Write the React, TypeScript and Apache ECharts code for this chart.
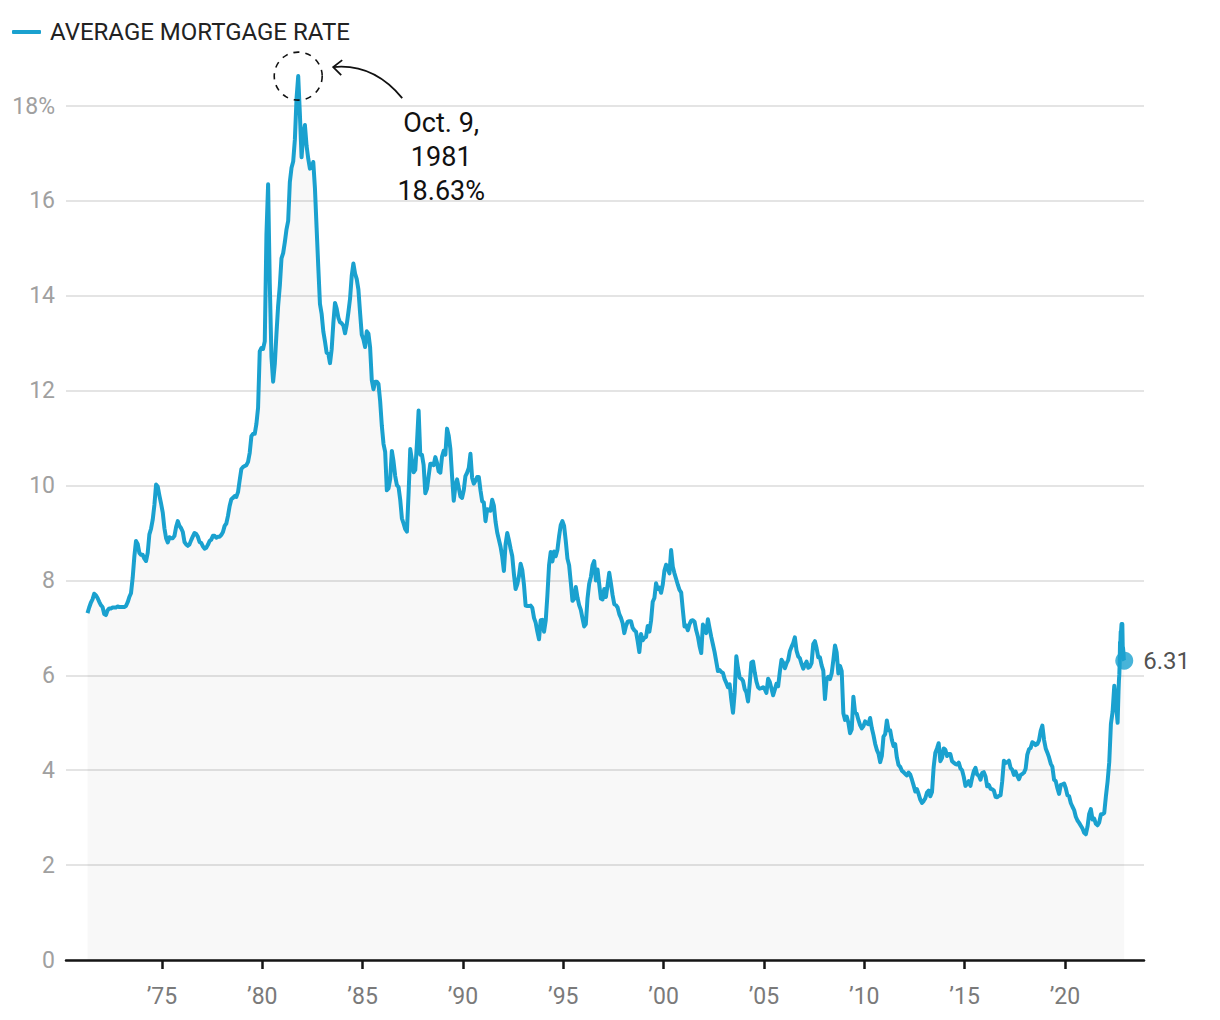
import React, { useEffect, useRef } from "react";
import * as echarts from "echarts";

// Monthly averages (Apr 1971 onward), 30-year fixed mortgage rate, %
const rates1970s = [
  7.31, 7.43, 7.53, 7.6, 7.72, 7.69, 7.63, 7.55, 7.48,
  7.44, 7.29, 7.27, 7.37, 7.41, 7.41, 7.43, 7.43, 7.43, 7.45, 7.44, 7.44,
  7.44, 7.44, 7.46, 7.54, 7.65, 7.73, 8.05, 8.5, 8.83, 8.77, 8.58, 8.54,
  8.54, 8.46, 8.41, 8.58, 8.97, 9.09, 9.28, 9.59, 10.02, 9.98, 9.79, 9.62,
  9.43, 9.1, 8.89, 8.8, 8.91, 8.89, 8.89, 8.94, 9.13, 9.25, 9.15, 9.1,
  9.02, 8.81, 8.76, 8.73, 8.76, 8.85, 8.93, 9.0, 8.98, 8.92, 8.81, 8.79,
  8.72, 8.67, 8.69, 8.75, 8.83, 8.86, 8.94, 8.94, 8.9, 8.92, 8.92, 8.96,
  9.02, 9.15, 9.2, 9.36, 9.57, 9.71, 9.74, 9.78, 9.76, 9.86, 10.11, 10.35,
  10.39, 10.41, 10.43, 10.5, 10.69, 11.04, 11.09, 11.09, 11.3, 11.64, 12.83, 12.9,
];
const rates1980s = [
  12.88, 13.04, 15.28, 16.35, 14.26, 12.71, 12.19, 12.56, 13.2, 13.79, 14.21, 14.79,
  14.9, 15.13, 15.4, 15.58, 16.4, 16.7, 16.83, 17.29, 18.16, 18.63, 17.83, 16.92,
  17.4, 17.6, 17.16, 16.89, 16.68, 16.7, 16.82, 16.27, 15.43, 14.61, 13.83, 13.62,
  13.25, 13.04, 12.8, 12.78, 12.58, 12.87, 13.42, 13.85, 13.73, 13.54, 13.44, 13.42,
  13.37, 13.21, 13.39, 13.65, 13.94, 14.42, 14.68, 14.47, 14.35, 14.13, 13.64, 13.18,
  13.08, 12.92, 13.25, 13.2, 12.91, 12.22, 12.03, 12.19, 12.19, 12.14, 11.78, 11.26,
  10.88, 10.71, 9.9, 9.94, 10.14, 10.73, 10.51, 10.2, 10.01, 9.97, 9.7, 9.31,
  9.2, 9.08, 9.03, 9.83, 10.77, 10.54, 10.28, 10.33, 10.89, 11.58, 10.65, 10.65,
  10.43, 9.84, 9.93, 10.2, 10.46, 10.46, 10.43, 10.6, 10.48, 10.3, 10.27, 10.61,
  10.73, 10.65, 11.2, 11.05, 10.77, 10.2, 9.68, 9.99, 10.13, 9.95, 9.77, 9.74,
];
const rates1990s = [
  9.9, 10.2, 10.27, 10.37, 10.67, 10.16, 10.04, 10.1, 10.18, 10.18, 9.9, 9.67,
  9.64, 9.25, 9.5, 9.49, 9.47, 9.7, 9.58, 9.24, 9.01, 8.86, 8.71, 8.5,
  8.2, 8.76, 9.0, 8.85, 8.67, 8.51, 8.13, 7.82, 7.92, 8.09, 8.35, 8.22,
  7.91, 7.47, 7.46, 7.46, 7.47, 7.42, 7.21, 7.11, 6.92, 6.76, 7.16, 7.17,
  6.92, 7.15, 7.68, 8.32, 8.6, 8.4, 8.61, 8.51, 8.64, 8.93, 9.17, 9.25,
  9.15, 8.83, 8.46, 8.32, 7.96, 7.57, 7.61, 7.86, 7.64, 7.48, 7.38, 7.2,
  7.03, 7.08, 7.62, 7.93, 8.07, 8.32, 8.41, 8.0, 8.23, 7.92, 7.62, 7.6,
  7.82, 7.65, 7.9, 8.16, 7.94, 7.69, 7.5, 7.48, 7.43, 7.29, 7.21, 7.1,
  6.89, 7.04, 7.13, 7.14, 7.14, 7.0, 6.95, 6.92, 6.72, 6.49, 6.87, 6.74,
  6.79, 6.81, 7.04, 6.92, 7.15, 7.55, 7.63, 7.94, 7.82, 7.85, 7.74, 7.91,
];
const rates2000s = [
  8.21, 8.33, 8.24, 8.15, 8.64, 8.29, 8.15, 8.03, 7.91, 7.8, 7.75, 7.38,
  7.03, 7.05, 6.95, 7.08, 7.15, 7.16, 7.13, 6.95, 6.82, 6.62, 6.47, 7.07,
  7.0, 6.89, 7.18, 6.99, 6.81, 6.65, 6.49, 6.29, 6.09, 6.11, 6.07, 6.05,
  5.92, 5.84, 5.75, 5.81, 5.48, 5.21, 5.63, 6.4, 6.15, 5.95, 5.93, 5.88,
  5.71, 5.64, 5.45, 5.83, 6.27, 6.29, 6.06, 5.87, 5.75, 5.72, 5.73, 5.75,
  5.71, 5.63, 5.93, 5.86, 5.72, 5.58, 5.7, 5.82, 5.77, 6.07, 6.33, 6.27,
  6.15, 6.25, 6.32, 6.51, 6.6, 6.68, 6.8, 6.52, 6.4, 6.36, 6.24, 6.14,
  6.22, 6.29, 6.16, 6.18, 6.26, 6.66, 6.72, 6.57, 6.38, 6.38, 6.21, 6.1,
  5.5, 5.92, 5.97, 5.92, 6.04, 6.32, 6.63, 6.48, 6.04, 6.2, 6.09, 5.2,
  5.06, 5.13, 5.0, 4.78, 4.86, 5.55, 5.22, 5.19, 5.06, 4.95, 4.88, 4.93,
];
const rates2010s = [
  5.03, 4.99, 4.97, 5.1, 4.89, 4.74, 4.56, 4.43, 4.35, 4.17, 4.3, 4.71,
  4.76, 5.05, 4.84, 4.84, 4.64, 4.51, 4.55, 4.27, 4.11, 4.07, 3.99, 3.96,
  3.92, 3.89, 3.95, 3.91, 3.8, 3.68, 3.55, 3.6, 3.5, 3.38, 3.31, 3.35,
  3.41, 3.53, 3.57, 3.45, 3.54, 4.07, 4.37, 4.46, 4.57, 4.19, 4.26, 4.46,
  4.43, 4.3, 4.34, 4.34, 4.19, 4.16, 4.13, 4.12, 4.16, 4.04, 4.0, 3.86,
  3.67, 3.71, 3.77, 3.67, 3.84, 3.98, 4.05, 3.91, 3.89, 3.8, 3.94, 3.96,
  3.87, 3.66, 3.69, 3.61, 3.6, 3.57, 3.44, 3.43, 3.46, 3.47, 3.77, 4.2,
  4.15, 4.17, 4.2, 4.05, 4.01, 3.9, 3.97, 3.88, 3.81, 3.9, 3.92, 3.95,
  4.03, 4.33, 4.44, 4.47, 4.59, 4.57, 4.53, 4.55, 4.63, 4.83, 4.94, 4.64,
  4.46, 4.37, 4.27, 4.14, 4.07, 3.8, 3.77, 3.62, 3.5, 3.69, 3.7, 3.72,
];
const rates2020s = [
  3.62, 3.47, 3.45, 3.31, 3.23, 3.16, 3.02, 2.94, 2.89, 2.83, 2.77, 2.68,
  2.65, 2.81, 3.08, 3.18, 2.96, 2.98, 2.87, 2.84, 2.9, 3.07, 3.07, 3.1,
  3.45, 3.76, 4.17, 4.98, 5.23, 5.78, 5.41, 5.0,
];
// Weekly readings, Sep–Dec 2022
const tailDates = [
  2022.67, 2022.69, 2022.71, 2022.73, 2022.745, 2022.76, 2022.78, 2022.8,
  2022.82, 2022.84, 2022.86, 2022.88, 2022.895, 2022.915, 2022.935, 2022.955,
];
const tailRates = [
  5.66, 5.89, 6.02, 6.29, 6.7, 6.66, 6.92, 6.94, 7.08, 6.95, 7.08, 6.61, 6.58, 6.49, 6.33, 6.31,
];

const tickYears = [1975, 1980, 1985, 1990, 1995, 2000, 2005, 2010, 2015, 2020];
const yTicks = [0, 2, 4, 6, 8, 10, 12, 14, 16, 18];
const seriesName = "AVERAGE MORTGAGE RATE";
const peakLabel = "Oct. 9,\n1981\n18.63%";
const lastLabel = "6.31";

function buildSeries(): [number, number][] {
  const out: [number, number][] = [];
  const add = (startYear: number, startMonth: number, vals: number[]) => {
    vals.forEach((v, i) => {
      const m = startMonth - 1 + i;
      out.push([startYear + (m + 0.5) / 12, v]);
    });
  };
  add(1971, 4, rates1970s);
  add(1980, 1, rates1980s);
  add(1990, 1, rates1990s);
  add(2000, 1, rates2000s);
  add(2010, 1, rates2010s);
  add(2020, 1, rates2020s);
  tailDates.forEach((d, i) => out.push([d, tailRates[i]]));
  return out;
}

const LINE = "#1aa1cf";
const FONT = "Roboto, 'Noto Sans', sans-serif";

export default function App() {
  const ref = useRef<HTMLDivElement>(null);
  useEffect(() => {
    if (!ref.current) return;
    const chart = echarts.init(ref.current, undefined, { renderer: "svg" });
    const data = buildSeries();
    let peak = data[0];
    data.forEach((d) => {
      if (d[1] > peak[1]) peak = d;
    });
    const last = data[data.length - 1];
    chart.setOption({
      animation: false,
      textStyle: { fontFamily: FONT },
      legend: {
        data: [seriesName],
        left: 12,
        top: 20,
        padding: 0,
        icon: "roundRect",
        itemWidth: 29,
        itemHeight: 4,
        itemGap: 10,
        selectedMode: false,
        textStyle: { fontSize: 24, color: "#222", padding: [0, 0, 0, 4] },
      },
      grid: { left: 66, right: 76, top: 106, bottom: 60 },
      xAxis: {
        type: "value",
        min: 1970.22,
        max: 2023.94,
        splitLine: { show: false },
        axisLine: { show: true, onZero: false, lineStyle: { color: "#151515", width: 2.5 } },
        axisTick: {
          show: true,
          customValues: tickYears,
          length: 9,
          lineStyle: { color: "#151515", width: 2.5 },
        },
        axisLabel: {
          customValues: tickYears,
          fontSize: 23,
          color: "#7a7a7a",
          margin: 25,
          formatter: (v: number) => "\u2019" + String(Math.round(v)).slice(2),
        },
      },
      yAxis: {
        type: "value",
        min: 0,
        max: 18,
        interval: 2,
        axisLine: { show: false },
        axisTick: { show: false },
        splitLine: { lineStyle: { color: "#e4e4e4", width: 2 } },
        axisLabel: {
          fontSize: 23,
          color: "#a0a0a0",
          margin: 11,
          formatter: (v: number) => (v === yTicks[yTicks.length - 1] ? v + "%" : String(v)),
        },
      },
      series: [
        {
          name: seriesName,
          type: "line",
          data,
          showSymbol: false,
          symbol: "none",
          clip: false,
          color: LINE,
          lineStyle: { color: LINE, width: 4, join: "round" },
          areaStyle: { color: "rgba(0,0,0,0.04)" },
          z: 3,
        },
        {
          name: "last",
          type: "scatter",
          data: [last],
          symbolSize: 18,
          itemStyle: { color: LINE },
          label: {
            show: true,
            position: "right",
            distance: 10,
            formatter: lastLabel,
            fontSize: 24,
            color: "#222",
          },
          z: 4,
        },
      ],
    });
    const p = chart.convertToPixel({ gridIndex: 0 }, [peak[0], peak[1]]) as number[];
    const px = p[0];
    const py = p[1];
    chart.setOption({
      graphic: [
        {
          type: "circle",
          shape: { cx: px, cy: py, r: 24 },
          style: { fill: "none", stroke: "#111", lineWidth: 1.6, lineDash: [6, 6] },
          z: 10,
        },
        {
          type: "bezierCurve",
          shape: { x1: px + 104, y1: py + 22, cpx1: px + 75, cpy1: py - 13, x2: px + 35, y2: py - 9 },
          style: { fill: "none", stroke: "#111", lineWidth: 1.8 },
          z: 10,
        },
        {
          type: "polyline",
          shape: { points: [[px + 44, py - 16], [px + 35, py - 9], [px + 43, py - 1]] },
          style: { fill: "none", stroke: "#111", lineWidth: 1.8 },
          z: 10,
        },
        {
          type: "text",
          x: px + 143,
          y: py + 30,
          style: {
            text: peakLabel,
            fontSize: 27,
            lineHeight: 34,
            fill: "#111",
            align: "center",
            verticalAlign: "top",
            fontFamily: FONT,
          },
          z: 10,
        },
      ],
    });
    return () => chart.dispose();
  }, []);
  return (
    <div
      ref={ref}
      style={{ position: "fixed", left: 0, top: 0, width: 1220, height: 1020, background: "#fff" }}
    />
  );
}
